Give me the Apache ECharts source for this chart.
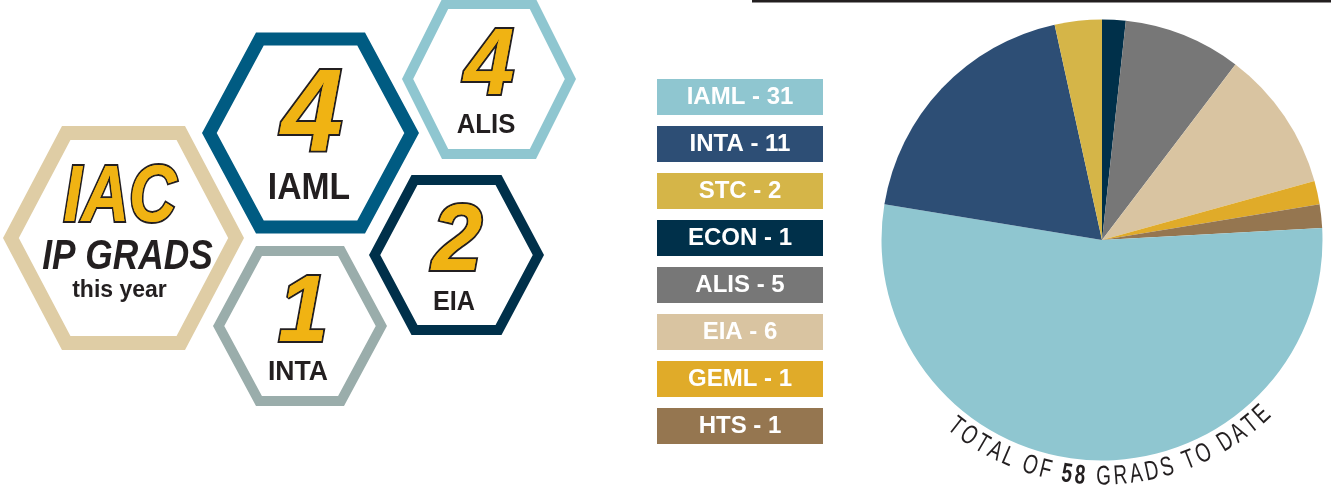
<!DOCTYPE html>
<html><head><meta charset="utf-8">
<script src="https://cdn.jsdelivr.net/npm/echarts@6/dist/echarts.min.js"></script>
<style>html,body{margin:0;padding:0;background:#fff}#c{width:1331px;height:487px}</style>
</head><body><div id="c"></div>
<script>
// ---- data ----
const programs = ['ECON', 'ALIS', 'EIA', 'GEML', 'HTS', 'IAML', 'INTA', 'STC'];
const grads = [1, 5, 6, 1, 1, 31, 11, 2];
const legendOrder = ['IAML', 'INTA', 'STC', 'ECON', 'ALIS', 'EIA', 'GEML', 'HTS'];
const yearPrograms = ['IAML', 'ALIS', 'EIA', 'INTA'];
const yearGrads = [4, 4, 2, 1];
const titleLines = ['IAC', 'IP GRADS', 'this year'];
const totalWords = ['TOTAL OF', 'GRADS TO DATE'];

// ---- style ----
const colors = {IAML:'#8fc6d0', INTA:'#2d4e75', STC:'#d5b548', ECON:'#00304a', ALIS:'#777777', EIA:'#d9c4a1', GEML:'#e0ab29', HTS:'#957650'};
const FF = '"Liberation Sans", Arial, sans-serif';
const GOLD = '#f0b313', INK = '#231f20';
const PIE_C = [1102, 240], PIE_R = 220.5;
const VOFF = 0.07; // glyph centring correction (fraction of font size)

const hexStyle = {
  title: {cx:123.5, cy:238, W:120.5, H:112, T:61.5, lw:14, color:'#dfcda5'},
  IAML: {cx:310.5, cy:133, W:108.5, H:100.5, T:54.5, lw:13, color:'#005b82', numX:312, numY:110, numSize:116, numScale:0.95, labX:309, labY:186.5, labSize:37, labScale:0.91},
  ALIS: {cx:489, cy:79, W:87, H:80, T:47, lw:10, color:'#8fc6d0', numX:489, numY:61, numSize:95, numScale:0.95, labX:486, labY:123, labSize:28, labScale:0.92},
  EIA:  {cx:456.5, cy:255, W:87.5, H:80, T:45, lw:10, color:'#00304a', numX:457, numY:237, numSize:95, numScale:0.95, labX:454, labY:300, labSize:28, labScale:0.9},
  INTA: {cx:300, cy:326, W:87, H:80, T:44, lw:10, color:'#9aadab', numX:303, numY:308.5, numSize:94, numScale:0.95, labX:298, labY:370, labSize:28, labScale:0.95}
};

function hexPts(s) {
  const d = s.lw / 2;
  const len = Math.hypot(s.W - s.T, s.H);
  const W2 = s.W - d * len / s.H;
  const H2 = s.H - d;
  const T2 = W2 + (s.T - s.W) * H2 / s.H;
  const cx = s.cx, cy = s.cy;
  return [[cx - W2, cy], [cx - T2, cy - H2], [cx + T2, cy - H2], [cx + W2, cy], [cx + T2, cy + H2], [cx - T2, cy + H2]];
}
function font(size, bold, italic) {
  return (italic ? 'italic ' : '') + (bold ? 'bold ' : '') + size + 'px ' + FF;
}
function txt(text, x, y, size, o) {
  o = o || {};
  const dy = o.noOffset ? 0 : VOFF * size;
  return {
    type: 'text', x: x, y: y + dy, z: o.z || 10,
    scaleX: o.scaleX || 1, rotation: o.rotation || 0,
    style: {
      text: text, font: font(size, o.bold !== false, !!o.italic),
      fill: o.fill || INK, stroke: o.stroke || null, lineWidth: o.lineWidth || 0,
      align: 'center', verticalAlign: 'middle', textAlign: 'center', textVerticalAlign: 'middle'
    }
  };
}
function goldText(text, x, y, size, scaleX) {
  return [
    txt(text, x, y, size, {italic: true, scaleX: scaleX, fill: GOLD, stroke: INK, lineWidth: 4, z: 10}),
    txt(text, x, y, size, {italic: true, scaleX: scaleX, fill: GOLD, z: 11})
  ];
}

const elements = [];
// top rule
elements.push({type: 'line', shape: {x1: 752, y1: 1, x2: 1331, y2: 1}, style: {stroke: INK, lineWidth: 3}});

// hexagons
Object.keys(hexStyle).forEach(k => {
  const s = hexStyle[k];
  elements.push({type: 'polygon', z: 5, shape: {points: hexPts(s)}, style: {fill: null, stroke: s.color, lineWidth: s.lw, lineJoin: 'miter'}});
});
// title hexagon text
elements.push(...goldText(titleLines[0], 120, 193.5, 80, 0.82));
elements.push(txt(titleLines[1], 127.5, 254, 42, {italic: true, scaleX: 0.84}));
elements.push(txt(titleLines[2], 119.5, 289, 23, {}));
// program hexagons
yearPrograms.forEach((p, i) => {
  const s = hexStyle[p];
  elements.push(...goldText(String(yearGrads[i]), s.numX, s.numY, s.numSize, s.numScale));
  elements.push(txt(p, s.labX, s.labY, s.labSize, {scaleX: s.labScale}));
});

// legend boxes
legendOrder.forEach((p, i) => {
  const y0 = 79 + i * 47;
  const v = grads[programs.indexOf(p)];
  elements.push({type: 'rect', z: 5, shape: {x: 657, y: y0, width: 166, height: 36}, style: {fill: colors[p]}});
  elements.push(txt(p + ' - ' + v, 740, y0 + 17, 24, {fill: '#ffffff'}));
});

// curved total text
const total = grads.reduce((a, b) => a + b, 0);
const pieces = [];
totalWords[0].split('').forEach(c => pieces.push({c: c, bold: false}));
pieces.push({c: ' ', bold: false});
String(total).split('').forEach(c => pieces.push({c: c, bold: true}));
pieces.push({c: ' ', bold: false});
totalWords[1].split('').forEach(c => pieces.push({c: c, bold: false}));
const ctx = document.createElement('canvas').getContext('2d');
const CS = 27, CSX = 0.7, TRACK = 2.8, RM = 237, PHI_C = -2.25 * Math.PI / 180;
pieces.forEach(p => { ctx.font = font(CS, p.bold, false); p.w = ctx.measureText(p.c).width * CSX; });
const L = pieces.reduce((a, p) => a + p.w, 0) + TRACK * (pieces.length - 1);
let s = 0;
const phi0 = PHI_C + L / (2 * RM);
pieces.forEach(p => {
  const phi = phi0 - (s + p.w / 2) / RM;
  s += p.w + TRACK;
  if (p.c === ' ') return;
  const x = PIE_C[0] - RM * Math.sin(phi), y = PIE_C[1] + RM * Math.cos(phi);
  elements.push(txt(p.c, x, y, CS, {bold: p.bold, scaleX: CSX, rotation: -phi, noOffset: true}));
});

const chart = echarts.init(document.getElementById('c'), null, {renderer: 'canvas'});
chart.setOption({
  backgroundColor: '#ffffff',
  animation: false,
  series: [{
    type: 'pie', center: PIE_C, radius: PIE_R, startAngle: 90, clockwise: true,
    silent: true, label: {show: false}, labelLine: {show: false},
    itemStyle: {borderWidth: 0},
    data: programs.map((p, i) => ({name: p, value: grads[i], itemStyle: {color: colors[p]}}))
  }],
  graphic: {elements: elements}
});
</script>
</body></html>
